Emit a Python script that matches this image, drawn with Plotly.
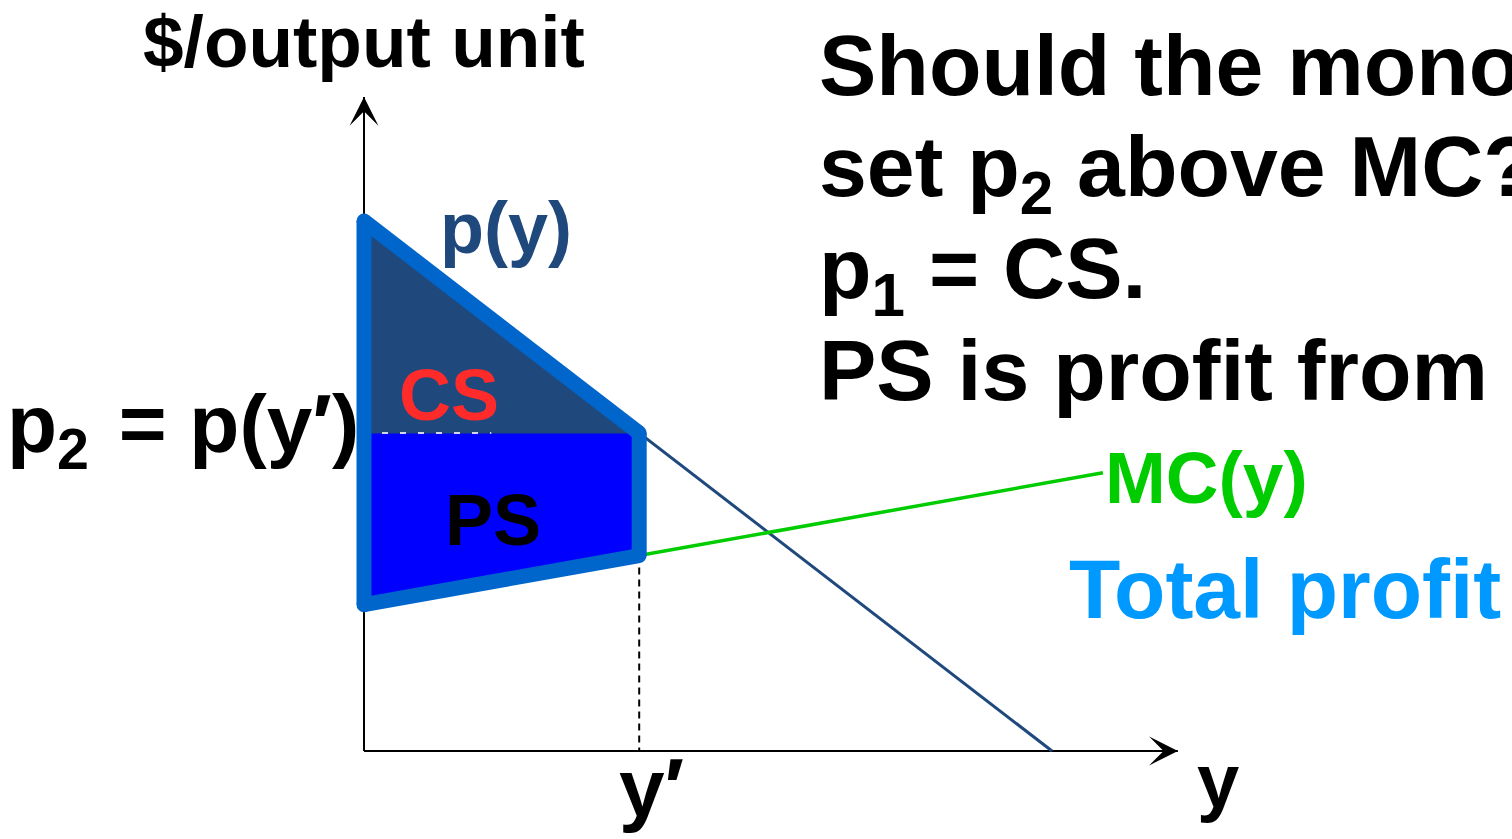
import numpy as np
import plotly.graph_objects as go

# ---------------- data ----------------
DEMAND_Q = [0.0, 10.0]          # p(y): inverse demand
DEMAND_P = [10.0, 0.0]
MC_Q = [0.0, 10.74]             # MC(y)
MC_P = [2.76, 5.25]
Y_PRIME = 4.0                   # chosen output y'
Q_AXIS_END = 11.83              # length of the quantity axis
P_AXIS_END = 12.34              # length of the price axis
P2_DASH_END = 1.85              # short white dashed guide at p2

AXIS_TITLE_P = "$/output unit"
AXIS_TITLE_Q = "y"
YPRIME_LABEL = "y′"
P2_LABEL = "p<sub>2</sub>\u200a = p(y′)"
DEMAND_LABEL = "p(y)"
MC_LABEL = "MC(y)"
CS_LABEL = "CS"
PS_LABEL = "PS"
PROFIT_LABEL = "Total profit"
TEXT_LINES = ["Should the monopolist", "set p<sub>2</sub> above MC?",
              "p<sub>1</sub> = CS.", "PS is profit from sales."]

# ---------------- layout helpers (pixel <-> data) ----------------
W, H = 1512, 839
PX0, PY0 = 364.0, 751.0
SX, SY = 68.8, 53.0
FONT = "Liberation Sans, Arial, Helvetica, sans-serif"


def X(px):
    return (px - PX0) / SX


def Y(py):
    return (PY0 - py) / SY


p_top = DEMAND_P[0]
p2 = float(np.interp(Y_PRIME, DEMAND_Q, DEMAND_P))
mc_0 = MC_P[0]
mc_yp = float(np.interp(Y_PRIME, MC_Q, MC_P))

DARK = "#1F497D"
OUTLINE = "#0066CC"

fig = go.Figure()

# PS region
fig.add_trace(go.Scatter(x=[0, Y_PRIME, Y_PRIME, 0, 0], y=[p2, p2, mc_yp, mc_0, p2],
                         fill="toself", fillcolor="#0000FF", mode="lines",
                         line=dict(width=1, color="#0000FF"), hoverinfo="skip"))
# CS region
fig.add_trace(go.Scatter(x=[0, Y_PRIME, 0, 0], y=[p_top, p2, p2, p_top],
                         fill="toself", fillcolor=DARK, mode="lines",
                         line=dict(width=1, color=DARK), hoverinfo="skip"))
# white dashed guide at p2
fig.add_trace(go.Scatter(x=[0, P2_DASH_END], y=[p2, p2], mode="lines",
                         line=dict(width=2, color="rgba(255,255,255,0.8)", dash="6px,12px"),
                         hoverinfo="skip"))
# axes lines
fig.add_trace(go.Scatter(x=[0, Q_AXIS_END], y=[0, 0], mode="lines",
                         line=dict(width=2, color="black"), hoverinfo="skip"))
fig.add_trace(go.Scatter(x=[0, 0], y=[0, P_AXIS_END], mode="lines",
                         line=dict(width=2, color="black"), hoverinfo="skip"))
# demand curve
fig.add_trace(go.Scatter(x=DEMAND_Q, y=DEMAND_P, mode="lines",
                         line=dict(width=3, color=DARK), hoverinfo="skip"))
# MC curve beyond y'
fig.add_trace(go.Scatter(x=[Y_PRIME, MC_Q[1]], y=[mc_yp, MC_P[1]], mode="lines",
                         line=dict(width=3.5, color="#00CC00"), hoverinfo="skip"))
# vertical dashed at y'
fig.add_trace(go.Scatter(x=[Y_PRIME, Y_PRIME], y=[mc_yp, 0], mode="lines",
                         line=dict(width=2, color="black", dash="7px,5px"), hoverinfo="skip"))
# thick outline of total profit area (segments + round joins)
vx = [0, Y_PRIME, Y_PRIME, 0]
vy = [p_top, p2, mc_yp, mc_0]
sx, sy = [], []
for i in range(4):
    j = (i + 1) % 4
    sx += [vx[i], vx[j], None]
    sy += [vy[i], vy[j], None]
fig.add_trace(go.Scatter(x=sx, y=sy, mode="lines",
                         line=dict(width=15, color=OUTLINE), hoverinfo="skip"))
fig.add_trace(go.Scatter(x=vx, y=vy, mode="markers",
                         marker=dict(size=15, color=OUTLINE, line=dict(width=0)),
                         hoverinfo="skip"))

annotations = []
# arrowheads
annotations.append(dict(x=0, y=P_AXIS_END, ax=0, ay=P_AXIS_END - 0.6,
                        xref="x", yref="y", axref="x", ayref="y", text="",
                        showarrow=True, arrowhead=3, arrowsize=2.4, arrowwidth=2,
                        arrowcolor="black"))
annotations.append(dict(x=Q_AXIS_END, y=0, ax=Q_AXIS_END - 0.5, ay=0,
                        xref="x", yref="y", axref="x", ayref="y", text="",
                        showarrow=True, arrowhead=3, arrowsize=2.4, arrowwidth=2,
                        arrowcolor="black"))


def font(size, color):
    return dict(family=FONT, size=size, color=color, weight="bold")


def label(text, px, anchor, base, size, color):
    # top-anchored box: baseline sits at box top + border (2px) + font ascent
    return dict(text=text, x=X(px), y=Y(base - 0.905 * size - 2), xref="x", yref="y",
                xanchor=anchor, yanchor="top", showarrow=False, font=font(size, color))


def label_bottom(text, px, anchor, base, size, color):
    # bottom-anchored box: baseline sits above box bottom by descent + border
    return dict(text=text, x=X(px), y=Y(base + 0.212 * size + 2), xref="x", yref="y",
                xanchor=anchor, yanchor="bottom", showarrow=False, font=font(size, color))


annotations += [
    label_bottom(AXIS_TITLE_P, 364, "center", 67, 73, "black"),
    label(DEMAND_LABEL, 506, "center", 253, 72, DARK),
    label(CS_LABEL, 449, "center", 420, 72, "#FF2A2A"),
    label(PS_LABEL, 493, "center", 545, 72, "black"),
    label(P2_LABEL, 361, "right", 452, 82, "black"),
    label(MC_LABEL, 1103, "left", 503, 73, "#00CC00"),
    label(PROFIT_LABEL, 1067, "left", 618, 84, "#0099FF"),
    label(YPRIME_LABEL, 617, "left", 816, 82, "black"),
    label(AXIS_TITLE_Q, 1218, "center", 807, 76, "black"),
]
for line, base in zip(TEXT_LINES, [95, 196, 298, 400]):
    annotations.append(label(line, 817, "left", base, 86, "black"))

fig.update_layout(
    width=W, height=H, margin=dict(l=0, r=0, t=0, b=0),
    paper_bgcolor="white", plot_bgcolor="white", showlegend=False,
    xaxis=dict(visible=False, range=[X(0), X(W)], fixedrange=True),
    yaxis=dict(visible=False, range=[Y(H), Y(0)], fixedrange=True),
    annotations=annotations,
)

fig.write_html("out.html", config={"displayModeBar": False},
               post_script="document.body.style.margin='0';document.body.style.overflow='hidden';")
